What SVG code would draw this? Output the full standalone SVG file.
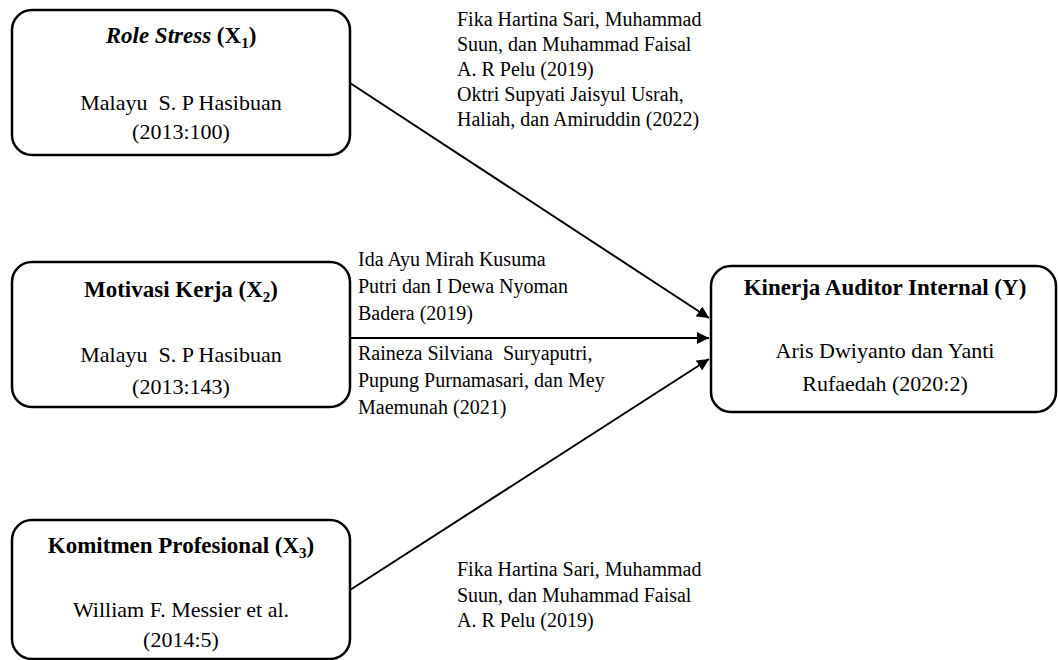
<svg xmlns="http://www.w3.org/2000/svg" width="1058" height="660" viewBox="0 0 1058 660">
<defs>
<style>
.box{fill:#fff;stroke:#000;stroke-width:2.5}
.t{font-family:"Liberation Serif","Times New Roman",serif;font-size:22px;fill:#000;text-anchor:middle}
.b{font-weight:bold;font-size:23px}
.lbl{font-family:"Liberation Serif","Times New Roman",serif;font-size:20px;fill:#000}
.con{stroke:#000;stroke-width:2;fill:none;marker-end:url(#arr)}
</style>
<marker id="arr" viewBox="0 0 10 10" refX="10" refY="5" markerWidth="6" markerHeight="6" markerUnits="strokeWidth" orient="auto">
<path d="M0,0 L10,5 L0,10 Z" fill="#000"/>
</marker>
</defs>
<rect width="1058" height="660" fill="#fff"/>
<g id="connectors">
<line class="con" x1="350" y1="83" x2="709" y2="318"/>
<line class="con" x1="350" y1="338" x2="709" y2="338"/>
<line class="con" x1="350" y1="590" x2="709" y2="359"/>
</g>
<g id="node-x1">
<rect class="box" x="12" y="10" width="338" height="145" rx="20"/>
<text class="t b" x="181" y="43"><tspan font-style="italic">Role Stress</tspan> (X<tspan font-size="15" dy="5">1</tspan><tspan dy="-5">)</tspan></text>
<text class="t" x="181" y="110" xml:space="preserve">Malayu  S. P Hasibuan</text>
<text class="t" x="181" y="139">(2013:100)</text>
</g>
<g id="node-x2">
<rect class="box" x="12" y="262" width="338" height="145" rx="20"/>
<text class="t b" x="181" y="297">Motivasi Kerja (X<tspan font-size="15" dy="5">2</tspan><tspan dy="-5">)</tspan></text>
<text class="t" x="181" y="362" xml:space="preserve">Malayu  S. P Hasibuan</text>
<text class="t" x="181" y="394">(2013:143)</text>
</g>
<g id="node-x3">
<rect class="box" x="12" y="520" width="338" height="139" rx="20"/>
<text class="t b" x="181" y="553">Komitmen Profesional (X<tspan font-size="15" dy="5">3</tspan><tspan dy="-5">)</tspan></text>
<text class="t" x="181" y="617">William F. Messier et al.</text>
<text class="t" x="181" y="647">(2014:5)</text>
</g>
<g id="node-y">
<rect class="box" x="711" y="266" width="345" height="146" rx="20"/>
<text class="t b" x="885" y="295">Kinerja Auditor Internal (Y)</text>
<text class="t" x="885" y="358">Aris Dwiyanto dan Yanti</text>
<text class="t" x="885" y="391">Rufaedah (2020:2)</text>
</g>
<g id="labels">
<text class="lbl" x="457" y="26">Fika Hartina Sari, Muhammad</text>
<text class="lbl" x="457" y="51">Suun, dan Muhammad Faisal</text>
<text class="lbl" x="457" y="76">A. R Pelu (2019)</text>
<text class="lbl" x="457" y="101">Oktri Supyati Jaisyul Usrah,</text>
<text class="lbl" x="457" y="126">Haliah, dan Amiruddin (2022)</text>
<text class="lbl" x="358" y="266">Ida Ayu Mirah Kusuma</text>
<text class="lbl" x="358" y="293">Putri dan I Dewa Nyoman</text>
<text class="lbl" x="358" y="320">Badera (2019)</text>
<text class="lbl" x="358" y="360" xml:space="preserve">Raineza Silviana  Suryaputri,</text>
<text class="lbl" x="358" y="387">Pupung Purnamasari, dan Mey</text>
<text class="lbl" x="358" y="414">Maemunah (2021)</text>
<text class="lbl" x="457" y="576">Fika Hartina Sari, Muhammad</text>
<text class="lbl" x="457" y="602">Suun, dan Muhammad Faisal</text>
<text class="lbl" x="457" y="627">A. R Pelu (2019)</text>
</g>
</svg>
